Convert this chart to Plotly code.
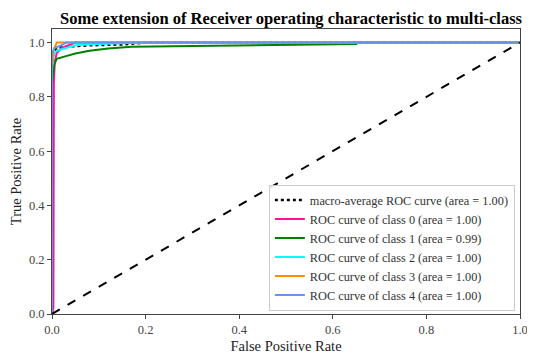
import plotly.graph_objects as go

macro_fpr = [0, 0, 0.005, 0.01, 0.03, 0.08, 0.15, 0.2, 1.0]
macro_tpr = [0, 0.93, 0.97, 0.98, 0.985, 0.99, 0.993, 1.0, 1.0]

c0_fpr = [0, 0.003, 0.004, 0.006, 0.01, 0.02, 0.05, 1.0]
c0_tpr = [0, 0.02, 0.85, 0.93, 0.96, 0.98, 1.0, 1.0]

c1_fpr = [0, 0, 0.005, 0.01, 0.03, 0.05, 0.08, 0.12, 0.17, 0.3, 0.43, 0.65, 0.65, 1.0]
c1_tpr = [0, 0.85, 0.92, 0.94, 0.95, 0.96, 0.97, 0.978, 0.985, 0.988, 0.99, 0.995, 1.0, 1.0]

c2_fpr = [0, 0, 0.005, 0.01, 0.03, 0.05, 0.1, 0.2, 1.0]
c2_tpr = [0, 0.93, 0.96, 0.97, 0.98, 0.99, 0.995, 1.0, 1.0]

c3_fpr = [0, 0, 0.003, 0.01, 1.0]
c3_tpr = [0, 0.9, 0.97, 1.0, 1.0]

c4_fpr = [0, 0, 0.005, 0.02, 0.03, 1.0]
c4_tpr = [0, 0.96, 0.98, 0.99, 1.0, 1.0]

tick_vals = [0, 0.2, 0.4, 0.6, 0.8, 1.0]
tick_text = ["0.0", "0.2", "0.4", "0.6", "0.8", "1.0"]

names = [
    "macro-average ROC curve (area = 1.00)",
    "ROC curve of class 0 (area = 1.00)",
    "ROC curve of class 1 (area = 0.99)",
    "ROC curve of class 2 (area = 1.00)",
    "ROC curve of class 3 (area = 1.00)",
    "ROC curve of class 4 (area = 1.00)",
]
colors = ["black", "deeppink", "green", "aqua", "darkorange", "cornflowerblue"]

fig = go.Figure()
series = [(macro_fpr, macro_tpr), (c0_fpr, c0_tpr), (c1_fpr, c1_tpr),
          (c2_fpr, c2_tpr), (c3_fpr, c3_tpr), (c4_fpr, c4_tpr)]
for i, ((x, y), n, c) in enumerate(zip(series, names, colors)):
    fig.add_trace(go.Scatter(
        x=x, y=y, mode="lines", name=n,
        line=dict(color=c, width=2.5 if i == 0 else 2, dash="dot" if i == 0 else "solid"),
    ))

fig.add_trace(go.Scatter(x=[0, 1], y=[0, 1], mode="lines", showlegend=False,
                         line=dict(color="black", width=2, dash="dash")))

font = "Liberation Serif, serif"
tickfont = dict(family=font, size=12.5, color="#444")
fig.update_layout(
    width=527, height=346,
    margin=dict(l=44, r=15, t=21, b=40),
    paper_bgcolor="white", plot_bgcolor="white",
    font=dict(family=font, size=12, color="#333"),
    title=dict(text="<b>Some extension of Receiver operating characteristic to multi-class</b>",
               x=0.537, xanchor="center", xref="container",
               y=0.971, yanchor="middle", yref="container",
               font=dict(size=16.5, color="black", family=font)),
    legend=dict(x=0.989, xanchor="right", y=0.012, yanchor="bottom",
                bgcolor="rgba(255,255,255,0.9)", bordercolor="#ccc", borderwidth=1,
                font=dict(size=12.3, color="#333", family=font),
                tracegroupgap=0, itemwidth=30),
    xaxis=dict(range=[0, 1], tickvals=tick_vals, ticktext=tick_text, tickfont=tickfont,
               ticks="outside", ticklen=4, tickcolor="#444", automargin=False,
               showline=True, linecolor="#444", mirror=True, showgrid=False, zeroline=False,
               title=dict(text="False Positive Rate", font=dict(size=14.5, color="#222", family=font), standoff=4)),
    yaxis=dict(range=[0, 1.05], tickvals=tick_vals, ticktext=tick_text, tickfont=tickfont,
               ticks="outside", ticklen=4, tickcolor="#444", automargin=False,
               showline=True, linecolor="#444", mirror=True, showgrid=False, zeroline=False,
               title=dict(text="True Positive Rate", font=dict(size=14.5, color="#222", family=font), standoff=6)),
)

fig.write_html("out.html")
